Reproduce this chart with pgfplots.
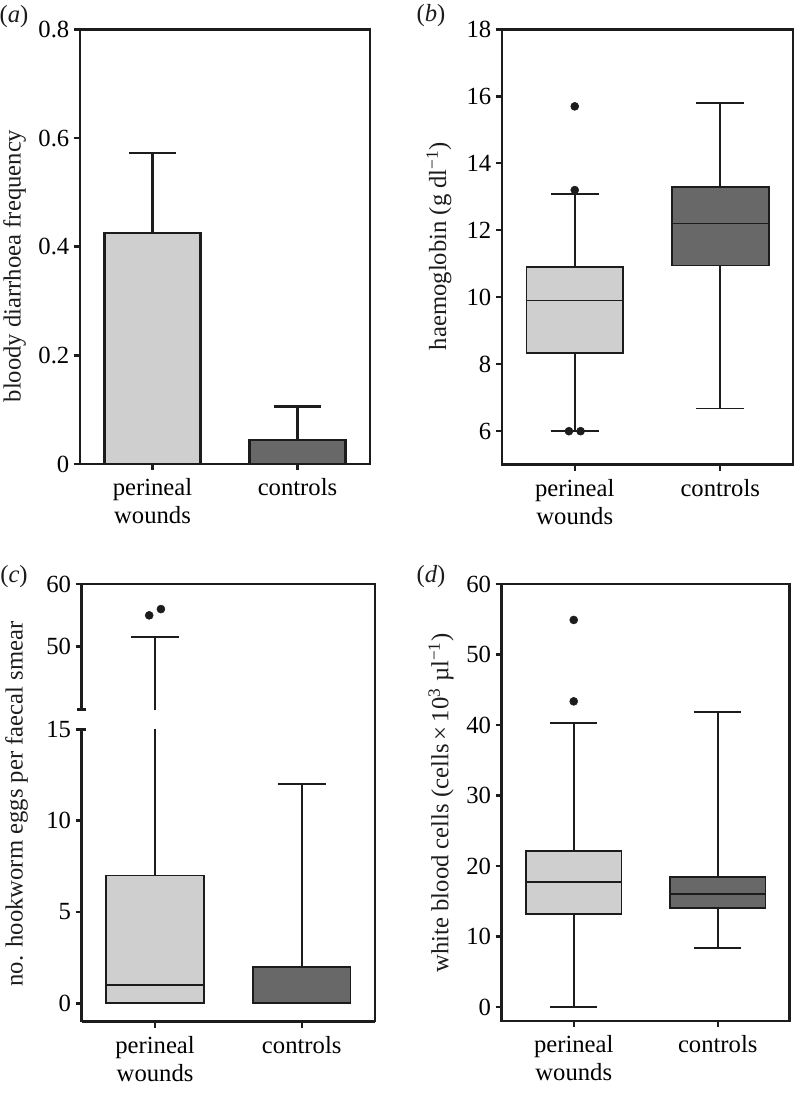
\documentclass[border=0pt]{standalone}
\usepackage{fontspec}
\setmainfont{Liberation Serif}
\usepackage{pgfplots}
\pgfplotsset{compat=1.18}
\usepgfplotslibrary{statistics}

\definecolor{lightgrey}{RGB}{207,207,207}
\definecolor{darkgrey}{RGB}{104,104,104}
\definecolor{ink}{RGB}{28,28,28}
\newcommand{\fs}{\fontsize{18.5}{21}\selectfont}

\pgfplotsset{
  panel/.style={
    scale only axis, anchor=south west,
    xmin=-0.5, xmax=1.5,
    xtick={0,1}, xticklabels={{perineal\\wounds},controls},
    xticklabel style={align=center, font=\fs, yshift=-3pt},
    yticklabel style={font=\fs},
    tick align=outside, xtick pos=bottom, ytick pos=left,
    major tick length=4.5pt,
    tick style={ink, line width=1.8pt},
    axis line style={ink, line width=1.9pt},
    /pgf/number format/assume math mode=true,
    boxplot/draw direction=y,
    boxplot/box extend=0.665,
    boxplot/whisker extend=0.33,
  },
  wbox/.style={draw=ink, line width=1.3pt, fill=#1,
    boxplot/every median/.style={line width=1.3pt}},
  outl/.style={only marks, mark=*, mark size=3pt, ink},
  ebar/.style={ybar, bar width=0.66, bar shift=0pt, fill=#1, draw=ink, line width=1.9pt,
    error bars/.cd, y dir=plus, y explicit,
    error bar style={line width=1.7pt, ink},
    error mark options={rotate=90, line width=1.7pt, mark size=17.5pt, ink}},
}

\begin{document}
\begin{tikzpicture}
\path[use as bounding box] (0,0) rectangle (598.5pt,-819.75pt);

% (a) bloody diarrhoea
\begin{axis}[panel, at={(60pt,-348pt)}, width=217.5pt, height=326pt,
  ymin=0, ymax=0.8, ytick={0,0.2,0.4,0.6,0.8}]
\addplot[ebar=lightgrey] coordinates {(0,0.425) +- (0,0.148)};
\addplot[ebar=darkgrey] coordinates {(1,0.044) +- (0,0.062)};
\end{axis}

% (b) haemoglobin
\begin{axis}[panel, at={(376.5pt,-348.5pt)}, width=218.25pt, height=326.5pt,
  ymin=5, ymax=18, ytick={6,8,10,12,14,16,18}]
\addplot[wbox=lightgrey, boxplot prepared={draw position=0,
  lower whisker=6.0, lower quartile=8.33, median=9.9,
  upper quartile=10.9, upper whisker=13.08}] coordinates {};
\addplot[wbox=darkgrey, boxplot prepared={draw position=1,
  lower whisker=6.68, lower quartile=10.95, median=12.2,
  upper quartile=13.3, upper whisker=15.8}] coordinates {};
\addplot[outl] coordinates {(0,15.7) (0,13.2) (-0.04,6.0) (0.04,6.0)};
\end{axis}

% (c) hookworm eggs, broken axis: lower part
\begin{axis}[panel, name=cl, at={(61.3pt,-766.2pt)}, width=220pt, height=219.2pt,
  axis x line*=bottom, axis y line*=left,
  x axis line style={-}, y axis line style={-},
  ymin=-1, ymax=15, ytick={0,5,10,15}]
\addplot[wbox=lightgrey, boxplot prepared={draw position=0,
  lower whisker=0, lower quartile=0, median=1,
  upper quartile=7, upper whisker=51.6}] coordinates {};
\addplot[wbox=darkgrey, boxplot prepared={draw position=1,
  lower whisker=0, lower quartile=0, median=0,
  upper quartile=2, upper whisker=12}] coordinates {};
\end{axis}
% (c) upper part
\begin{axis}[panel, name=cu, at={(61.3pt,-532pt)}, width=220pt, height=94pt,
  axis x line=none, axis y line*=left, y axis line style={-},
  xtick=\empty, ymin=40, ymax=60, ytick={50,60}]
\addplot[wbox=lightgrey, boxplot prepared={draw position=0,
  lower whisker=0, lower quartile=0, median=1,
  upper quartile=7, upper whisker=51.6}] coordinates {};
\addplot[outl] coordinates {(-0.04,55.0) (0.04,56.0)};
\end{axis}
\draw[ink, line width=1.9pt] ([xshift=-0.95pt]cu.north west) -- (cu.north east) -- (cl.south east);
\draw[ink, line width=1.8pt] ([xshift=-3.4pt]cu.south west) -- ([xshift=3.4pt]cu.south west);
\draw[ink, line width=1.8pt] ([xshift=-3.4pt]cl.north west) -- ([xshift=3.4pt]cl.north west);

% (d) white blood cells
\begin{axis}[panel, at={(376.3pt,-765.75pt)}, width=216pt, height=327.75pt,
  ymin=-2, ymax=60, ytick={0,10,20,30,40,50,60}]
\addplot[wbox=lightgrey, boxplot prepared={draw position=0,
  lower whisker=0, lower quartile=13.15, median=17.75,
  upper quartile=22.1, upper whisker=40.25}] coordinates {};
\addplot[wbox=darkgrey, boxplot prepared={draw position=1,
  lower whisker=8.4, lower quartile=14.0, median=16.0,
  upper quartile=18.4, upper whisker=41.85}] coordinates {};
\addplot[outl] coordinates {(0,54.9) (0,43.35)};
\end{axis}

% axis titles and panel letters
\begin{scope}[every node/.style={font=\fs, text=ink}]
\node[rotate=90] at (10.9pt,-199.5pt) {bloody diarrhoea frequency};
\node[rotate=90] at (329.25pt,-184.5pt) {haemoglobin (g dl\textsuperscript{−1})};
\node[rotate=90] at (12.5pt,-603pt) {no. hookworm eggs per faecal smear};
\node[rotate=90] at (330.75pt,-602.25pt) {white blood cells (cells\,×\,10\textsuperscript{3} µl\textsuperscript{−1})};
\node at (10.5pt,-12.5pt) {(\textit{a})};
\node at (323.25pt,-12pt) {(\textit{b})};
\node at (10.5pt,-432.75pt) {(\textit{c})};
\node at (323.25pt,-432.75pt) {(\textit{d})};
\end{scope}
\end{tikzpicture}
\end{document}
